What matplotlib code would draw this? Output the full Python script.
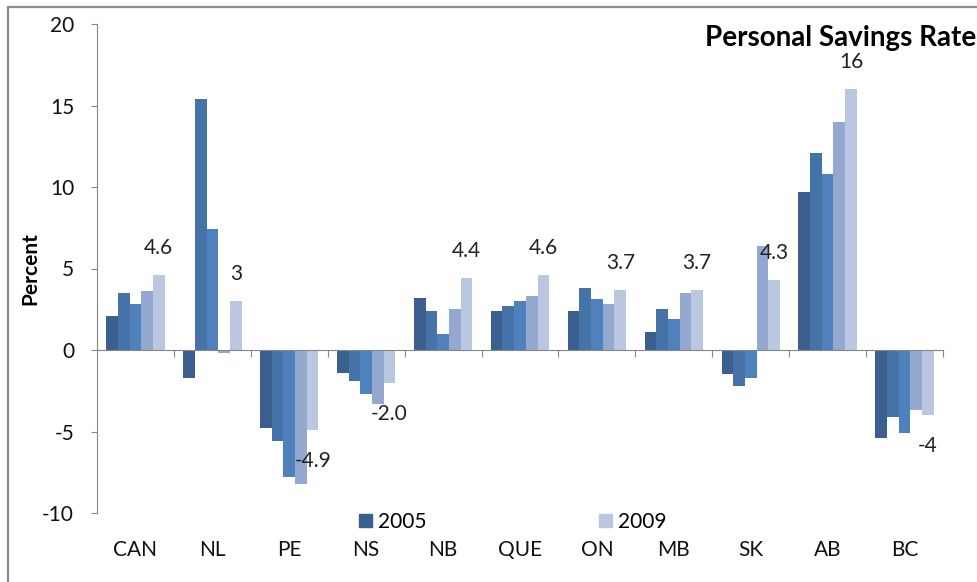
import matplotlib
matplotlib.use("Agg")
import matplotlib.pyplot as plt
from matplotlib.patches import Rectangle, Patch
import numpy as np

plt.rcParams['font.family'] = ['Lato', 'DejaVu Sans']
plt.rcParams['axes.unicode_minus'] = False

provinces = ['CAN', 'NL', 'PE', 'NS', 'NB', 'QUE', 'ON', 'MB', 'SK', 'AB', 'BC']
years = ['2005', '2006', '2007', '2008', '2009']
rates = {
    '2005': [2.1, -1.7, -4.8, -1.4, 3.2, 2.4, 2.4, 1.1, -1.5, 9.7, -5.4],
    '2006': [3.5, 15.4, -5.6, -1.9, 2.4, 2.7, 3.8, 2.5, -2.2, 12.1, -4.1],
    '2007': [2.8, 7.4, -7.8, -2.7, 1.0, 3.0, 3.1, 1.9, -1.7, 10.8, -5.1],
    '2008': [3.6, -0.2, -8.2, -3.3, 2.5, 3.3, 2.8, 3.5, 6.4, 14.0, -3.7],
    '2009': [4.6, 3.0, -4.9, -2.0, 4.4, 4.6, 3.7, 3.7, 4.3, 16.0, -4.0],
}
labels_2009 = ['4.6', '3', '-4.9', '-2.0', '4.4', '4.6', '3.7', '3.7', '4.3', '16', '-4']
colors = ['#3B5F8F', '#4573A8', '#4F81BD', '#95A9D0', '#BAC7E1']

W, H = 977, 582
fig = plt.figure(figsize=(W / 100, H / 100), dpi=100)
ax = fig.add_axes([97 / W, 1 - 513 / H, (943 - 97) / W, (513 - 24) / H])

x = np.arange(len(provinces))
bw = 0.152
for i, yr in enumerate(years):
    ax.bar(x + (i - 2) * bw, rates[yr], width=bw, color=colors[i], label=yr)

# data labels for 2009
for xi, v, lab in zip(x + 2 * bw, rates['2009'], labels_2009):
    off = 27 if v >= 0 else -31
    ax.annotate(lab, (xi, v), xytext=(0, off), textcoords='offset pixels',
                ha='center', va='center', fontsize=15, color='#222222')

ax.set_xlim(-0.5, len(provinces) - 0.5)
ax.set_ylim(-10, 20)
ax.set_yticks([-10, -5, 0, 5, 10, 15, 20])
ax.tick_params(axis='y', direction='out', length=4.5, color='#868686',
               labelsize=15, pad=12, labelcolor='#111111')
ax.set_xticks(np.arange(0.5, len(provinces), 1.0))
ax.set_xticklabels([])
ax.tick_params(axis='x', direction='out', length=5, color='#868686')

for s in ['top', 'right']:
    ax.spines[s].set_visible(False)
ax.spines['left'].set_color('#868686')
ax.spines['bottom'].set_color('#868686')
ax.spines['bottom'].set_position(('data', 0))

for xi, p in zip(x, provinces):
    ax.text(xi, -(550 - 513) / (513 - 24), p, transform=ax.get_xaxis_transform(),
            ha='center', va='center', fontsize=15, color='#111111')

ax.set_ylabel('Percent', fontsize=15, fontweight='bold')
ax.yaxis.set_label_coords(-(97 - 40) / (943 - 97), 0.5)

handles = [Patch(color=colors[0], label='2005'), Patch(color=colors[4], label='2009')]
fig.legend(handles=handles, loc='center', bbox_to_anchor=(513 / W, 1 - 522 / H),
           ncol=2, frameon=False, fontsize=15, handlelength=0.6, handleheight=0.6,
           handletextpad=0.3, columnspacing=8.3, borderpad=0)

fig.text(0.999, 1 - 38 / H, 'Personal Savings Rate', ha='right', va='center',
         fontsize=20, fontweight='bold')

fig.patches.append(Rectangle((8 / W, -0.1), 2, 1 - 7 / H + 0.1, transform=fig.transFigure,
                             fill=False, edgecolor='#8C8C8C', linewidth=1.6))

fig.savefig('out.png', dpi=100)
